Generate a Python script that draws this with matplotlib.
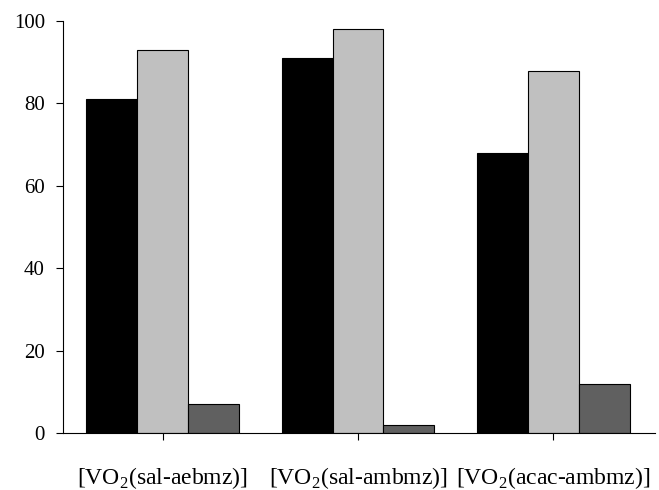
import matplotlib.pyplot as plt
import numpy as np

plt.rcParams['font.family'] = 'Liberation Serif'
plt.rcParams['mathtext.fontset'] = 'custom'
plt.rcParams['mathtext.rm'] = 'Liberation Serif'

categories = [r'[VO$_\mathrm{2}$(sal-aebmz)]', r'[VO$_\mathrm{2}$(sal-ambmz)]', r'[VO$_\mathrm{2}$(acac-ambmz)]']
series1 = [81, 91, 68]
series2 = [93, 98, 88]
series3 = [7, 2, 12]
colors = ['#000000', '#c0c0c0', '#606060']

fig = plt.figure(figsize=(6.59, 4.9), dpi=100)
ax = fig.add_axes([0.0956, 0.1163, 0.8984, 0.8407])

x = np.arange(len(categories))
w = 0.26
for i, (vals, c) in enumerate(zip([series1, series2, series3], colors)):
    ax.bar(x + (i - 1) * w, vals, w, color=c, edgecolor='black', linewidth=0.8)

ax.set_xlim(-0.51, 2.52)
ax.set_ylim(0, 100)
ax.set_yticks(range(0, 101, 20))
ax.set_xticks(x)
ax.set_xticklabels(categories)
ax.tick_params(axis='y', labelsize=15, length=5, pad=8, width=0.8)
ax.tick_params(axis='x', labelsize=17, length=5, pad=18, width=0.8)
for s in ['top', 'right']:
    ax.spines[s].set_visible(False)
for s in ['left', 'bottom']:
    ax.spines[s].set_linewidth(0.8)

fig.savefig('out.png', dpi=100)
